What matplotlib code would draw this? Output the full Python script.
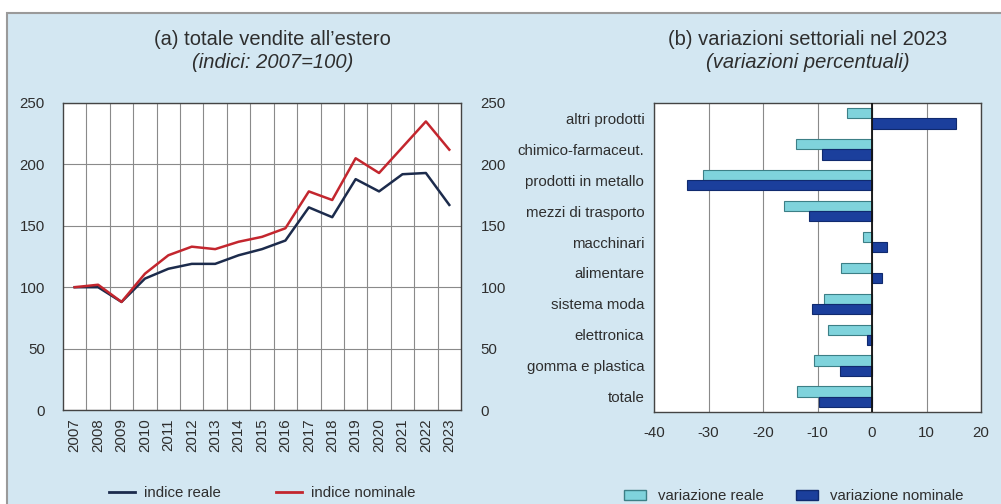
import numpy as np
import matplotlib
matplotlib.use("Agg")
import matplotlib.pyplot as plt
from matplotlib.patches import Rectangle, Patch
from matplotlib.lines import Line2D

plt.rcParams['font.family'] = ['Liberation Sans', 'DejaVu Sans']
plt.rcParams['axes.unicode_minus'] = False

# (a) indices 2007=100
anni = [str(a) for a in range(2007, 2024)]
indice_reale = [100, 100, 88, 107, 115, 119, 119, 126, 131, 138, 165, 157, 188, 178, 192, 193, 167]
indice_nominale = [100, 102, 88, 111, 126, 133, 131, 137, 141, 148, 178, 171, 205, 193, 214, 235, 212]

# (b) sector changes 2023
settori = ["altri prodotti", "chimico-farmaceut.", "prodotti in metallo", "mezzi di trasporto",
           "macchinari", "alimentare", "sistema moda", "elettronica", "gomma e plastica", "totale"]
var_reale = [-4.6, -14.0, -31.1, -16.1, -1.7, -5.6, -8.8, -8.1, -10.6, -13.8]
var_nominale = [15.4, -9.2, -34.0, -11.6, 2.7, 1.9, -11.0, -1.0, -5.9, -9.7]

bg = '#d3e7f2'
txt = '#2e2e2e'
grid_c = '#8a8a8a'
col_reale = '#1c2b4c'
col_nom = '#c3262e'
bar_light = '#7fd3dc'
bar_dark = '#1b3f9c'
fs = 10.8

fig = plt.figure(figsize=(10.01, 5.04), dpi=100)
fig.patch.set_facecolor('white')
fig.patches.append(Rectangle((7/1001, -0.05), 1.05, 1 - 13/504 + 0.05, transform=fig.transFigure,
                             facecolor=bg, edgecolor='#9a9a9a', linewidth=1.5, zorder=-10))

# ---- left panel
ax1 = fig.add_axes([63/1001, 1 - 410/504, 398/1001, 307/504])
x = np.arange(len(anni))
ax1.plot(x, indice_reale, color=col_reale, lw=1.8, zorder=3)
ax1.plot(x, indice_nominale, color=col_nom, lw=1.8, zorder=3)
ax1.set_xlim(-0.5, len(anni) - 0.5)
ax1.set_ylim(0, 250)
ax1.set_yticks(range(0, 251, 50))
ax1.set_xticks(x)
ax1.set_xticklabels(anni, rotation=90, fontsize=fs, color=txt)
ax1.set_xticks(x[:-1] + 0.5, minor=True)
ax1.grid(True, which='minor', axis='x', color=grid_c, lw=0.8)
ax1.grid(True, which='major', axis='y', color=grid_c, lw=0.8)
ax1.tick_params(axis='both', which='both', length=0, labelsize=fs, labelcolor=txt)
ax1.tick_params(axis='y', pad=13)
ax1.tick_params(axis='x', pad=6)
for s in ax1.spines.values():
    s.set_color('#444444')
    s.set_linewidth(1.0)
ax1.set_axisbelow(True)
ax1r = ax1.twinx()
ax1r.set_ylim(0, 250)
ax1r.set_yticks(range(0, 251, 50))
ax1r.tick_params(axis='y', length=0, labelsize=fs, labelcolor=txt, pad=14)
for s in ax1r.spines.values():
    s.set_visible(False)

fig.text(0.272, 1 - 40/504, "(a) totale vendite all’estero", ha='center', va='center', fontsize=14.5, color=txt)
fig.text(0.272, 1 - 63/504, "(indici: 2007=100)", ha='center', va='center', fontsize=14.5,
         style='italic', color=txt)

h1 = [Line2D([], [], color=col_reale, lw=2), Line2D([], [], color=col_nom, lw=2)]
fig.legend(h1, ["indice reale", "indice nominale"], loc='center', bbox_to_anchor=(0.262, 1 - 493/504),
           ncol=2, frameon=False, fontsize=fs, handlelength=1.7, handletextpad=0.6,
           columnspacing=3.7, labelcolor=txt)

# ---- right panel
ax2 = fig.add_axes([654/1001, 1 - 412/504, 327/1001, 309/504])
y = np.arange(len(settori))
h = 0.33
ax2.barh(y - h/2, var_reale, height=h, color=bar_light, edgecolor='#3c7f86', lw=0.8, zorder=3)
ax2.barh(y + h/2, var_nominale, height=h, color=bar_dark, edgecolor='#102a6e', lw=0.8, zorder=3)
ax2.set_ylim(len(settori) - 0.5, -0.5)
ax2.set_xlim(-40, 20)
ax2.set_xticks(range(-40, 21, 10))
ax2.set_yticks(y)
ax2.set_yticklabels(settori)
ax2.grid(True, axis='x', color=grid_c, lw=0.8)
ax2.axvline(0, color='#111111', lw=1.3, zorder=4)
ax2.tick_params(axis='both', length=0, labelsize=fs, labelcolor=txt)
ax2.tick_params(axis='x', pad=10)
ax2.tick_params(axis='y', pad=7)
for s in ax2.spines.values():
    s.set_color('#444444')
    s.set_linewidth(1.0)
ax2.set_axisbelow(True)

fig.text(0.807, 1 - 40/504, "(b) variazioni settoriali nel 2023", ha='center', va='center', fontsize=14.5, color=txt)
fig.text(0.807, 1 - 63/504, "(variazioni percentuali)", ha='center', va='center', fontsize=14.5,
         style='italic', color=txt)

h2 = [Patch(facecolor=bar_light, edgecolor='#3c7f86'), Patch(facecolor=bar_dark, edgecolor='#102a6e')]
fig.legend(h2, ["variazione reale", "variazione nominale"], loc='center', bbox_to_anchor=(0.793, 1 - 496/504),
           ncol=2, frameon=False, fontsize=fs, handlelength=1.5, handleheight=0.7, handletextpad=0.8,
           columnspacing=2.1, labelcolor=txt)

fig.savefig("out.png", dpi=100, facecolor=fig.get_facecolor())
